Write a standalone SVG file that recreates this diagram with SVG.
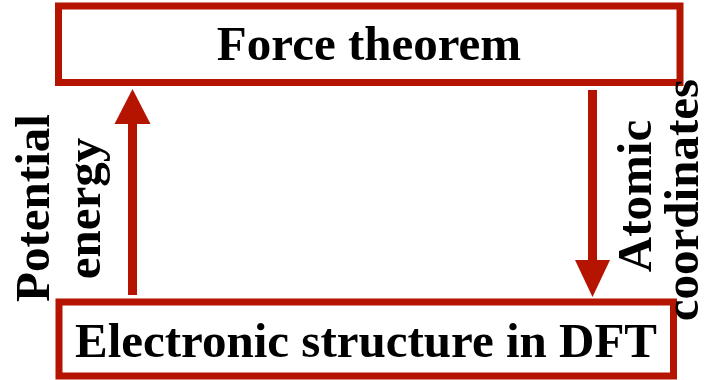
<svg xmlns="http://www.w3.org/2000/svg" width="709" height="380" viewBox="0 0 709 380">
<style>
.box{fill:#fff;stroke:#b41400;stroke-width:7}
.t{font-family:"Liberation Serif","Times New Roman",serif;font-weight:bold;font-size:49px;fill:#000;text-anchor:middle}
.shaft{stroke:#b41400;stroke-width:9;fill:none}
.head{fill:#b41400}
</style>
<rect width="709" height="380" fill="#fff"/>
<g id="force">
<rect class="box" x="58.5" y="6" width="621.5" height="76.5"/>
<text class="t" x="369" y="60">Force theorem</text>
</g>
<g id="dft">
<rect class="box" x="59" y="302" width="614.5" height="74"/>
<text class="t" x="366" y="357">Electronic structure in DFT</text>
</g>
<g id="connectors">
<g id="up">
<line class="shaft" x1="132.5" y1="295" x2="132.5" y2="120"/>
<polygon class="head" points="132.5,89 150.5,124 114.5,124"/>
</g>
<g id="down">
<line class="shaft" x1="592.5" y1="90" x2="592.5" y2="264"/>
<polygon class="head" points="592.5,297 610,260 575,260"/>
</g>
</g>
<g id="labels">
<text class="t" transform="translate(48.5,208) rotate(-90)">Potential</text>
<text class="t" transform="translate(100,208.5) rotate(-90)">energy</text>
<text class="t" transform="translate(651,196) rotate(-90)">Atomic</text>
<text class="t" transform="translate(698,200) rotate(-90)">coordinates</text>
</g>
</svg>
